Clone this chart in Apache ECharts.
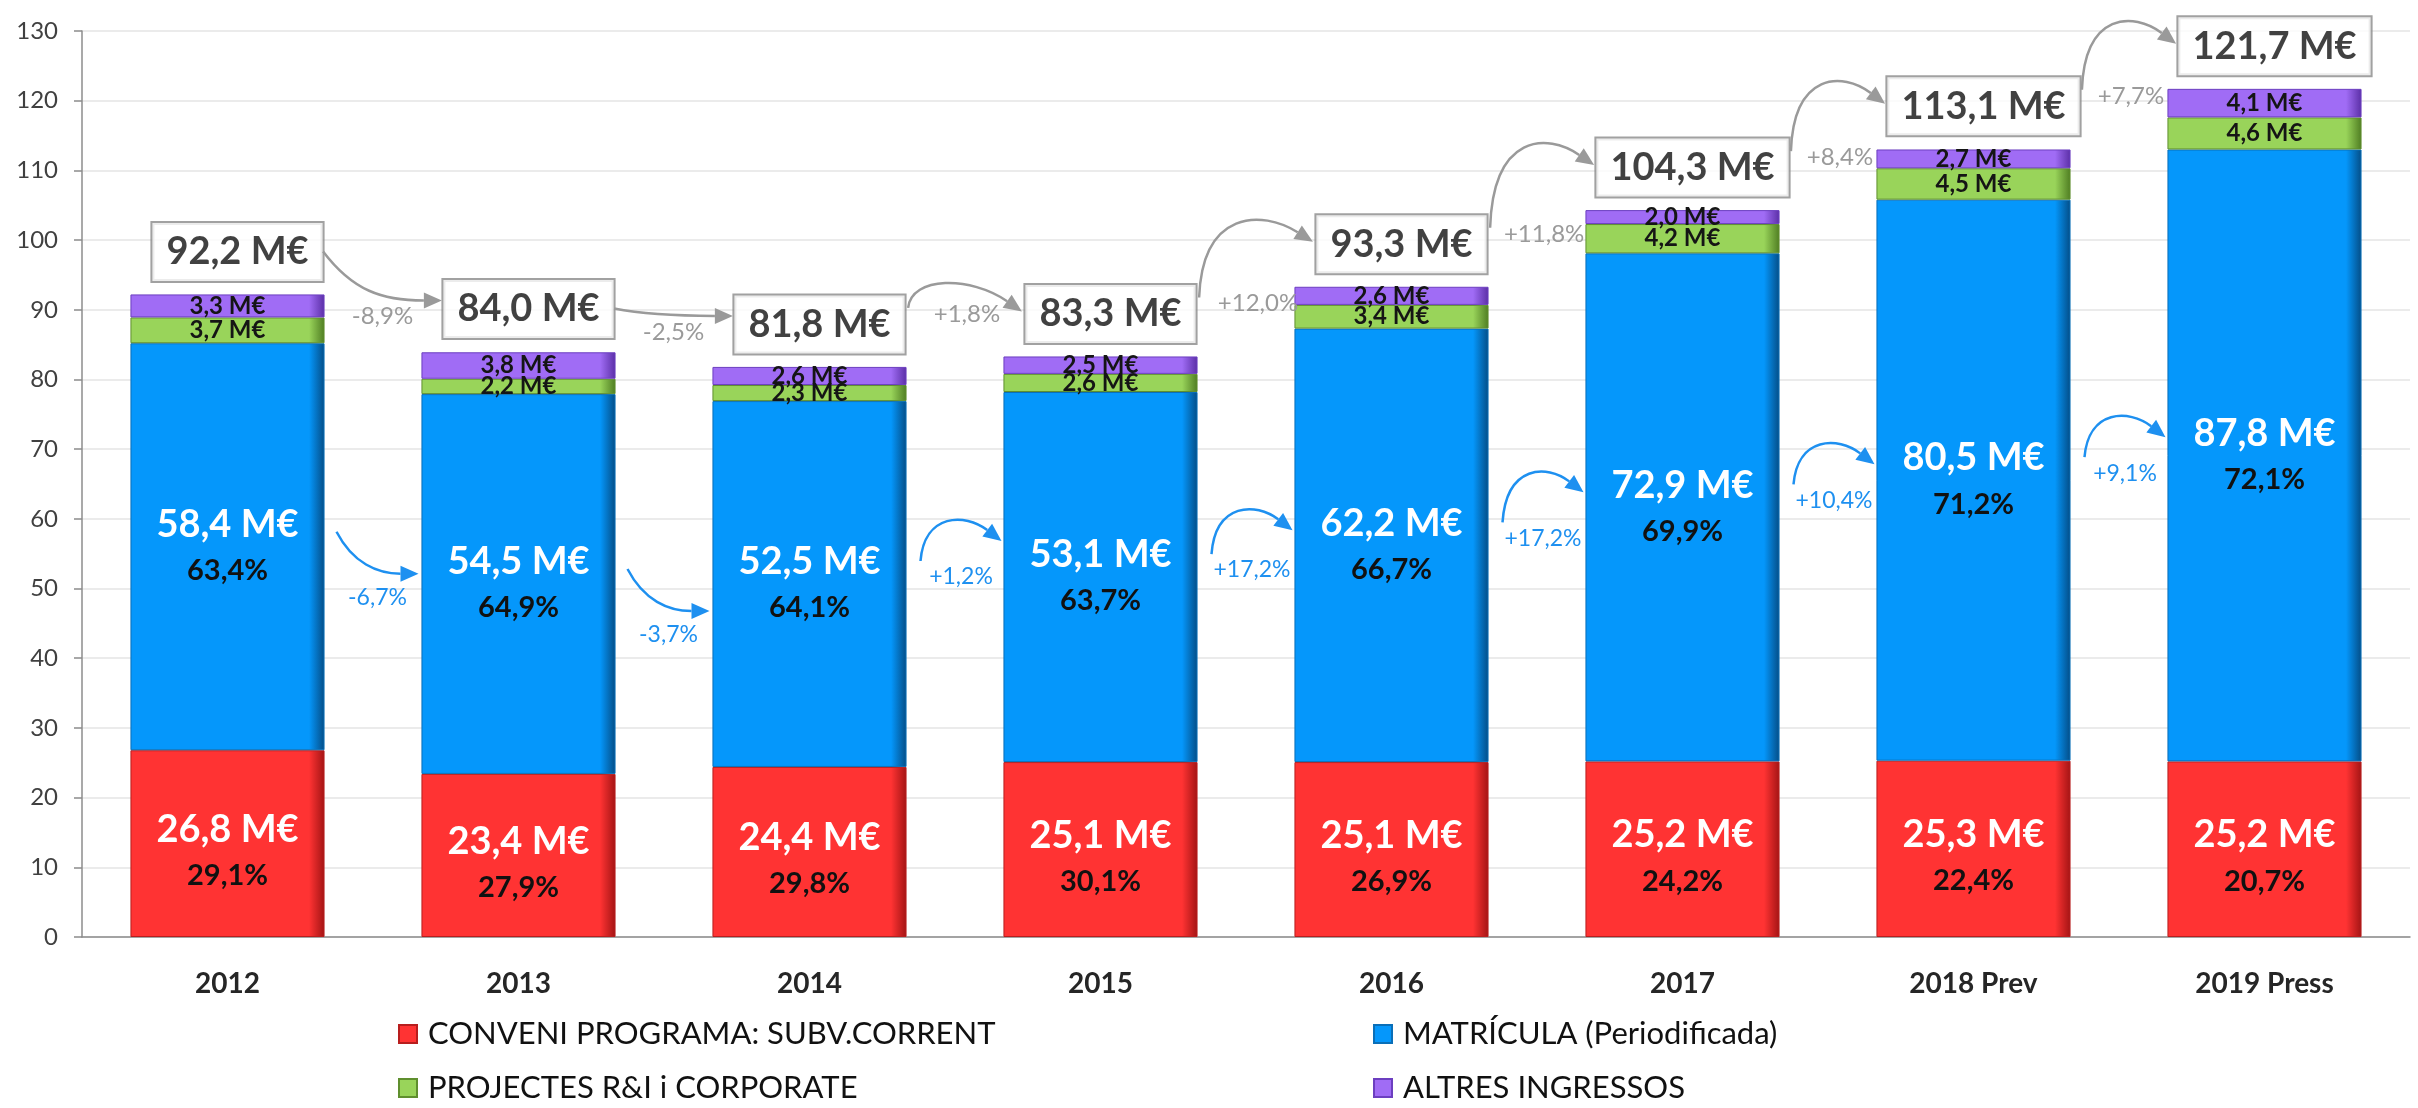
<!DOCTYPE html>
<html>
<head>
<meta charset="utf-8">
<script src="https://cdn.jsdelivr.net/npm/echarts@6/dist/echarts.min.js"></script>
<style>
  html, body { margin: 0; padding: 0; background: #fff; }
  #chart { width: 2418px; height: 1108px; }
</style>
</head>
<body>
<div id="chart"></div>
<script>
// dades
const categories = ['2012', '2013', '2014', '2015', '2016', '2017', '2018 Prev', '2019 Press'];
const conveni = [26.8, 23.4, 24.4, 25.1, 25.1, 25.2, 25.3, 25.2];
const matricula = [58.4, 54.5, 52.5, 53.1, 62.2, 72.9, 80.5, 87.8];
const projectes = [3.7, 2.2, 2.3, 2.6, 3.4, 4.2, 4.5, 4.6];
const altres = [3.3, 3.8, 2.6, 2.5, 2.6, 2.0, 2.7, 4.1];
const totals = [92.2, 84.0, 81.8, 83.3, 93.3, 104.3, 113.1, 121.7];
const conveniPct = [29.1, 27.9, 29.8, 30.1, 26.9, 24.2, 22.4, 20.7];
const matriculaPct = [63.4, 64.9, 64.1, 63.7, 66.7, 69.9, 71.2, 72.1];
const totalGrowth = ['-8,9%', '-2,5%', '+1,8%', '+12,0%', '+11,8%', '+8,4%', '+7,7%'];
const matriculaGrowth = ['-6,7%', '-3,7%', '+1,2%', '+17,2%', '+17,2%', '+10,4%', '+9,1%'];
const seriesNames = ['CONVENI PROGRAMA: SUBV.CORRENT', 'MATRÍCULA (Periodificada)', 'PROJECTES R&I i CORPORATE', 'ALTRES INGRESSOS'];

const FONT = 'Lato';
const fmt = v => v.toFixed(1).replace('.', ',');
const meur = v => fmt(v) + ' M€';

const bevel = (base, dark) => new echarts.graphic.LinearGradient(0, 0, 1, 0, [
    { offset: 0, color: base },
    { offset: 0.92, color: base },
    { offset: 1, color: dark }
]);

const chart = echarts.init(document.getElementById('chart'));

// fletxa corba amb punta
function arrow(p0, p1, p2, p3, color, text, tx, ty, fs) {
    let dx = p3[0] - p2[0], dy = p3[1] - p2[1];
    const len = Math.sqrt(dx * dx + dy * dy) || 1;
    dx /= len; dy /= len;
    const L = 18, W = 8;
    const bx = p3[0] - dx * L, by = p3[1] - dy * L;
    return [
        {
            type: 'bezierCurve',
            shape: { x1: p0[0], y1: p0[1], cpx1: p1[0], cpy1: p1[1], cpx2: p2[0], cpy2: p2[1], x2: bx, y2: by },
            style: { stroke: color, lineWidth: 2.5, fill: null }
        },
        {
            type: 'polygon',
            shape: { points: [p3, [bx - dy * W, by + dx * W], [bx + dy * W, by - dx * W]] },
            style: { fill: color }
        },
        {
            type: 'text',
            style: { text: text, x: tx, y: ty, fill: color, fontSize: fs, fontFamily: FONT, align: 'center', verticalAlign: 'middle' }
        }
    ];
}

function renderTotalArrow(params, api) {
    const i = api.value(0);
    const boxY = k => api.coord([k, totals[k]])[1] - 43;
    const boxX = k => api.coord([k, 0])[0] + 10;
    const halfW = k => meur(totals[k]).length * 9.8 + 14;
    const up = totalGrowth[i][0] !== '-';
    let p0, p3, p1, p2, tx, ty;
    if (up) {
        p0 = [boxX(i) + halfW(i) + 6, boxY(i) - 16];
        p3 = [boxX(i + 1) - halfW(i + 1) - 6, boxY(i + 1) - 2];
        const dx = p3[0] - p0[0];
        const peak = Math.min(p0[1], p3[1]) - 32;
        p1 = [p0[0] + 0.03 * dx, peak];
        p2 = [p0[0] + 0.55 * dx, peak];
        tx = (p0[0] + p3[0]) / 2 + 2; ty = p0[1] + 6;
    } else {
        p0 = [boxX(i) + halfW(i) + 3, boxY(i)];
        p3 = [boxX(i + 1) - halfW(i + 1) - 4, boxY(i + 1) - 8];
        const dx = p3[0] - p0[0], dy = p3[1] - p0[1];
        p1 = [p0[0] + 0.25 * dx, p0[1] + 0.8 * dy];
        p2 = [p0[0] + 0.5 * dx, p3[1]];
        tx = (p0[0] + p3[0]) / 2; ty = p3[1] + 16;
    }
    return { type: 'group', children: arrow(p0, p1, p2, p3, '#9a9a9a', totalGrowth[i], tx, ty, 24) };
}

function renderBlueArrow(params, api) {
    const i = api.value(0);
    const half = api.size([1, 0])[0] / 3;
    const vl = k => api.coord([k, conveni[k] + matricula[k] / 2])[1] - 23;
    const cx = k => api.coord([k, 0])[0];
    const up = matriculaGrowth[i][0] !== '-';
    let p0, p3, p1, p2, tx, ty;
    if (up) {
        p0 = [cx(i) + half + 14, vl(i)];
        p3 = [cx(i + 1) - half - 2, Math.min(vl(i + 1) + 8, p0[1] - 20)];
        const dx = p3[0] - p0[0];
        const peak = p3[1] - 28;
        p1 = [p0[0] + 0.05 * dx, peak];
        p2 = [p0[0] + 0.55 * dx, peak];
        tx = (p0[0] + p3[0]) / 2; ty = p0[1] + 16;
    } else {
        p0 = [cx(i) + half + 12, vl(i) + 8];
        p3 = [cx(i + 1) - half - 3, Math.max(vl(i + 1) + 12, p0[1] + 42)];
        const dx = p3[0] - p0[0], dy = p3[1] - p0[1];
        p1 = [p0[0] + 0.2 * dx, p0[1] + 0.75 * dy];
        p2 = [p0[0] + 0.5 * dx, p3[1]];
        tx = (p0[0] + p3[0]) / 2; ty = p3[1] + 24;
    }
    return { type: 'group', children: arrow(p0, p1, p2, p3, '#1e90f0', matriculaGrowth[i], tx, ty, 23) };
}

const smallLabel = {
    show: true,
    position: 'inside',
    fontFamily: FONT,
    fontSize: 24,
    fontWeight: 'bold',
    color: '#151515',
    formatter: p => meur(p.value)
};

const legendBase = {
    orient: 'vertical',
    top: 1018,
    padding: 0,
    itemWidth: 18, itemHeight: 18, itemGap: 22,
    icon: 'rect',
    textStyle: { fontSize: 31, color: '#111', lineHeight: 32, padding: [0, 0, 0, 6], fontFamily: FONT }
};

const option = {
    animation: false,
    textStyle: { fontFamily: FONT },
    grid: { left: 82, right: 8, top: 31, bottom: 171 },
    legend: [
        Object.assign({}, legendBase, { data: [seriesNames[0], seriesNames[2]], left: 398 }),
        Object.assign({}, legendBase, { data: [seriesNames[1], seriesNames[3]], left: 1373 })
    ],
    xAxis: {
        type: 'category',
        data: categories,
        axisLine: { lineStyle: { color: '#8c8c8c', width: 1.5 } },
        axisTick: { length: 10, lineStyle: { color: '#8c8c8c', width: 1.5 } },
        axisLabel: { fontSize: 28, fontWeight: 'bold', color: '#262626', margin: 33, fontFamily: FONT }
    },
    yAxis: {
        type: 'value',
        min: 0, max: 130, interval: 10,
        axisLine: { show: true, lineStyle: { color: '#8c8c8c', width: 1.5 } },
        axisTick: { show: true, length: 8, lineStyle: { color: '#8c8c8c', width: 1.5 } },
        axisLabel: { fontSize: 24, color: '#404040', margin: 24, fontFamily: FONT },
        splitLine: { lineStyle: { color: '#e4e4e4', width: 1.5 } }
    },
    series: [
        {
            name: seriesNames[0], type: 'bar', stack: 'total', data: conveni,
            barCategoryGap: '33.3%',
            itemStyle: { color: bevel('#ff3333', '#a31414'), borderColor: '#b81e1e', borderWidth: 1 },
            label: {
                show: true, position: 'inside', offset: [0, 8],
                formatter: p => '{v|' + meur(p.value) + '}\n{p|' + fmt(conveniPct[p.dataIndex]) + '%}',
                rich: {
                    v: { fontFamily: FONT, fontSize: 38, fontWeight: 'bold', color: '#fff', lineHeight: 48 },
                    p: { fontFamily: FONT, fontSize: 29, fontWeight: 'bold', color: '#111', lineHeight: 44 }
                }
            }
        },
        {
            name: seriesNames[1], type: 'bar', stack: 'total', data: matricula,
            itemStyle: { color: bevel('#0597fb', '#044d86'), borderColor: '#0a6fb8', borderWidth: 1 },
            label: {
                show: true, position: 'inside',
                formatter: p => '{v|' + meur(p.value) + '}\n{p|' + fmt(matriculaPct[p.dataIndex]) + '%}',
                rich: {
                    v: { fontFamily: FONT, fontSize: 38, fontWeight: 'bold', color: '#fff', lineHeight: 48 },
                    p: { fontFamily: FONT, fontSize: 29, fontWeight: 'bold', color: '#111', lineHeight: 44 }
                }
            }
        },
        {
            name: seriesNames[2], type: 'bar', stack: 'total', data: projectes,
            itemStyle: { color: bevel('#99d45a', '#4f7d22'), borderColor: '#5f8f2e', borderWidth: 1 },
            label: smallLabel
        },
        {
            name: seriesNames[3], type: 'bar', stack: 'total', data: altres,
            itemStyle: { color: bevel('#a06cf5', '#5b2fa6'), borderColor: '#6c3fc0', borderWidth: 1 },
            label: smallLabel
        },
        {
            name: 'total', type: 'scatter', data: totals,
            symbolSize: 1, itemStyle: { color: 'rgba(0,0,0,0)' },
            silent: true, z: 5,
            label: {
                show: true, position: 'top', distance: 13, offset: [10, 0],
                formatter: p => meur(p.value),
                fontFamily: FONT, fontSize: 38, fontWeight: 'bold', color: '#111',
                lineHeight: 48,
                backgroundColor: '#fff', borderColor: '#8a8a8a', borderWidth: 2,
                padding: [5, 14, 5, 14]
            }
        },
        {
            name: 'creixement total', type: 'custom',
            data: totalGrowth.map((g, i) => [i, totals[i]]),
            encode: { x: 0, y: 1 },
            renderItem: renderTotalArrow, silent: true, z: 6
        },
        {
            name: 'creixement matricula', type: 'custom',
            data: matriculaGrowth.map((g, i) => [i, matricula[i]]),
            encode: { x: 0, y: 1 },
            renderItem: renderBlueArrow, silent: true, z: 6
        }
    ]
};
chart.setOption(option);
</script>
</body>
</html>
